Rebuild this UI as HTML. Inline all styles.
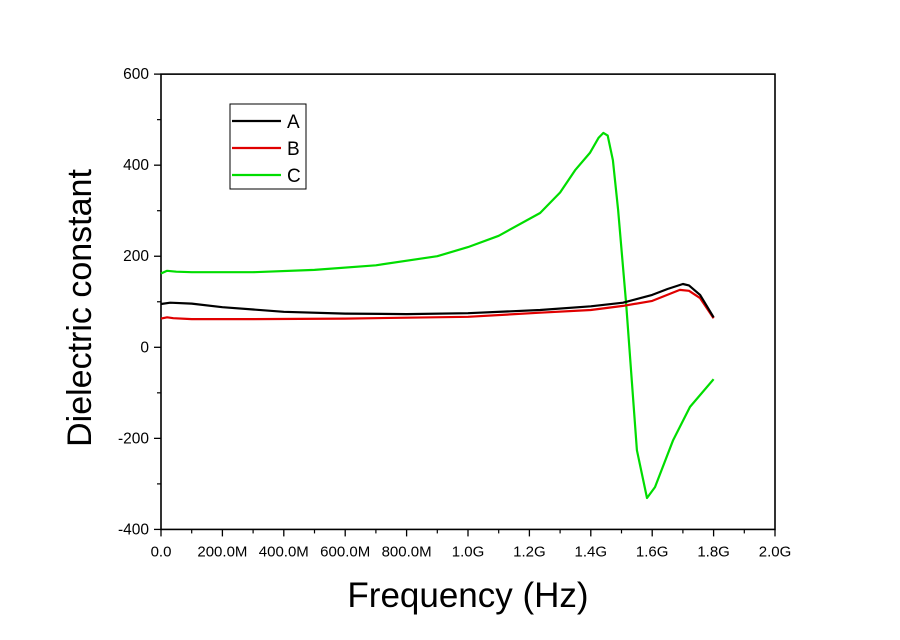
<!DOCTYPE html>
<html><head><meta charset="utf-8"><style>
body{margin:0;background:#fff;}
svg text{font-family:"Liberation Sans",Arial,sans-serif;}
</style></head><body>
<svg id="chart" width="900" height="635" viewBox="0 0 900 635">
<g id="axes"></g>
<g id="series"></g>
<g id="legend">
<rect x="230" y="104" width="76" height="85" fill="#fff" stroke="#000" stroke-width="1"/>
<line x1="232" y1="121" x2="281" y2="121" stroke="#000" stroke-width="2.2"/>
<text x="287" y="128" font-size="19">A</text>
<line x1="232" y1="148" x2="281" y2="148" stroke="#e00000" stroke-width="2.2"/>
<text x="287" y="155" font-size="19">B</text>
<line x1="232" y1="175" x2="281" y2="175" stroke="#00dd00" stroke-width="2.2"/>
<text x="287" y="182" font-size="19">C</text>
</g>
<text x="91" y="308" font-size="34" text-anchor="middle" transform="rotate(-90 91 308)">Dielectric constant</text>
<text x="468" y="607" font-size="35" text-anchor="middle">Frequency (Hz)</text>
</svg>
<script>
const xTicks=[0,0.2,0.4,0.6,0.8,1.0,1.2,1.4,1.6,1.8,2.0];
const xTickLabels=["0.0","200.0M","400.0M","600.0M","800.0M","1.0G","1.2G","1.4G","1.6G","1.8G","2.0G"];
const yTicks=[-400,-200,0,200,400,600];
const yTickLabels=["-400","-200","0","200","400","600"];
const freqA=[0,0.03,0.1,0.2,0.4,0.6,0.8,1.0,1.235,1.4,1.505,1.6,1.65,1.7,1.72,1.756,1.8];
const valA=[95,98,96,88,78,74,73,75,82,90,98,115,128,139,136,115,66];
const freqB=[0,0.02,0.04,0.1,0.3,0.6,1.0,1.235,1.4,1.505,1.6,1.69,1.72,1.756,1.8];
const valB=[63,66,64,62,62,63,67,76,82,91,102,126,124,108,64];
const freqC=[0,0.02,0.05,0.1,0.3,0.5,0.7,0.9,1.0,1.1,1.235,1.3,1.349,1.397,1.425,1.441,1.455,1.472,1.489,1.515,1.55,1.583,1.609,1.668,1.723,1.8];
const valC=[162,168,166,165,165,170,180,200,220,245,295,340,389,427,460,471,465,411,302,97,-226,-331,-307,-204,-131,-70];
const X0=161,XPG=307,Y0=347.3,YPU=0.4553;
const sx=f=>X0+f*XPG, sy=v=>Y0-v*YPU;
const NS="http://www.w3.org/2000/svg";
const axes=document.getElementById('axes'), ser=document.getElementById('series');
function mk(tag,attrs,parent){const e=document.createElementNS(NS,tag);for(const k in attrs)e.setAttribute(k,attrs[k]);parent.appendChild(e);return e;}
const L=sx(0),R=sx(2.0),T=sy(600),B=sy(-400);
const frame=mk('rect',{x:L,y:T,width:R-L,height:B-T,fill:'none',stroke:'#000','stroke-width':1.6},axes);


for(let i=0;i<xTicks.length;i++){
  const x=sx(xTicks[i]);
  const t=mk('line',{x1:x,y1:B,x2:x,y2:B+7,stroke:'#000','stroke-width':1.3},axes);
  
  
  if(i<xTicks.length-1){const m=mk('line',{x1:sx(xTicks[i]+0.1),y1:B,x2:sx(xTicks[i]+0.1),y2:B+4,stroke:'#000','stroke-width':1.2},axes);
  
  }
  const lb=mk('text',{x:x,y:B+27,'font-size':15,'text-anchor':'middle'},axes);lb.textContent=xTickLabels[i];
  
  
}
for(let i=0;i<yTicks.length;i++){
  const y=sy(yTicks[i]);
  const t=mk('line',{x1:L-7,y1:y,x2:L,y2:y,stroke:'#000','stroke-width':1.3},axes);
  
  
  if(i<yTicks.length-1){const m=mk('line',{x1:L-4,y1:sy(yTicks[i]+100),x2:L,y2:sy(yTicks[i]+100),stroke:'#000','stroke-width':1.2},axes);
  
  }
  const lb=mk('text',{x:L-12,y:y+5,'font-size':15.5,'text-anchor':'end'},axes);lb.textContent=yTickLabels[i];
  
  
}
function line(fs,vs,color,name){
  const d=fs.map((f,i)=>(i?'L':'M')+sx(f).toFixed(1)+','+sy(vs[i]).toFixed(1)).join(' ');
  const p=mk('path',{d:d,fill:'none',stroke:color,'stroke-width':2.2,'stroke-linejoin':'round'},ser);
  
  
}
line(freqC,valC,'#00dd00','series-c-line');
line(freqB,valB,'#e00000','series-b-line');
line(freqA,valA,'#000000','series-a-line');
</script>
</body></html>
